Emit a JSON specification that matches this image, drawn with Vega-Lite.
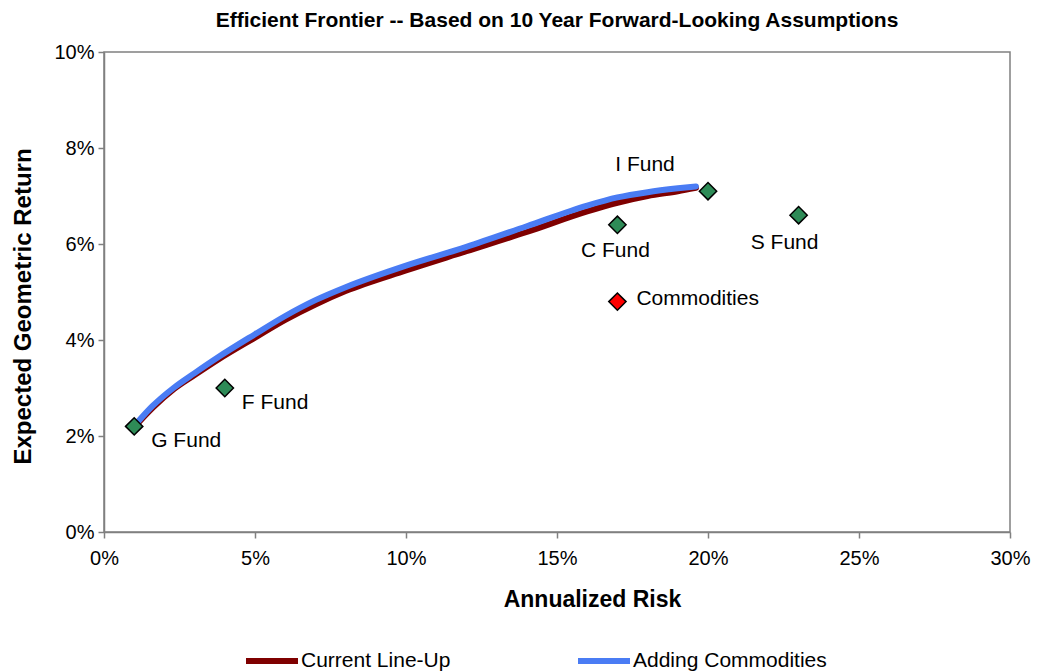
{
  "$schema": "https://vega.github.io/schema/vega-lite/v6.json",
  "width": 906,
  "height": 480,
  "autosize": "none",
  "padding": {"left": 104, "top": 52, "right": 27, "bottom": 139},
  "background": "white",
  "config": {
    "font": "Liberation Sans",
    "view": {"stroke": "#808080", "strokeWidth": 1.5},
    "axis": {"grid": false, "domainColor": "#808080", "domainWidth": 1.5, "tickColor": "#808080", "tickWidth": 1.5, "tickSize": 6, "labelFontSize": 20, "labelColor": "#000000", "titleFontSize": 23, "titleFontWeight": "bold", "titleColor": "#000000", "labelFont": "Liberation Sans", "titleFont": "Liberation Sans", "labelFlush": false}
  },
  "title": {"text": "Efficient Frontier -- Based on 10 Year Forward-Looking Assumptions", "fontSize": 21, "fontWeight": "bold", "font": "Liberation Sans", "color": "#000000", "offset": 11, "anchor": "middle"},
  "datasets": {
    "frontier": [
      {"series": "Current Line-Up", "risk": 0.011, "ret": 0.0225},
      {"series": "Current Line-Up", "risk": 0.016, "ret": 0.0258},
      {"series": "Current Line-Up", "risk": 0.023, "ret": 0.0297},
      {"series": "Current Line-Up", "risk": 0.030, "ret": 0.0327},
      {"series": "Current Line-Up", "risk": 0.038, "ret": 0.0360},
      {"series": "Current Line-Up", "risk": 0.050, "ret": 0.0405},
      {"series": "Current Line-Up", "risk": 0.060, "ret": 0.0442},
      {"series": "Current Line-Up", "risk": 0.070, "ret": 0.0474},
      {"series": "Current Line-Up", "risk": 0.080, "ret": 0.0502},
      {"series": "Current Line-Up", "risk": 0.100, "ret": 0.0545},
      {"series": "Current Line-Up", "risk": 0.120, "ret": 0.0585},
      {"series": "Current Line-Up", "risk": 0.140, "ret": 0.0625},
      {"series": "Current Line-Up", "risk": 0.160, "ret": 0.0668},
      {"series": "Current Line-Up", "risk": 0.170, "ret": 0.0686},
      {"series": "Current Line-Up", "risk": 0.180, "ret": 0.0700},
      {"series": "Current Line-Up", "risk": 0.190, "ret": 0.0710},
      {"series": "Current Line-Up", "risk": 0.196, "ret": 0.0717},
      {"series": "Adding Commodities", "risk": 0.011, "ret": 0.0228},
      {"series": "Adding Commodities", "risk": 0.016, "ret": 0.0262},
      {"series": "Adding Commodities", "risk": 0.023, "ret": 0.0300},
      {"series": "Adding Commodities", "risk": 0.030, "ret": 0.0331},
      {"series": "Adding Commodities", "risk": 0.038, "ret": 0.0365},
      {"series": "Adding Commodities", "risk": 0.050, "ret": 0.0412},
      {"series": "Adding Commodities", "risk": 0.060, "ret": 0.0450},
      {"series": "Adding Commodities", "risk": 0.070, "ret": 0.0483},
      {"series": "Adding Commodities", "risk": 0.080, "ret": 0.0510},
      {"series": "Adding Commodities", "risk": 0.100, "ret": 0.0555},
      {"series": "Adding Commodities", "risk": 0.120, "ret": 0.0594},
      {"series": "Adding Commodities", "risk": 0.140, "ret": 0.0637},
      {"series": "Adding Commodities", "risk": 0.160, "ret": 0.0680},
      {"series": "Adding Commodities", "risk": 0.170, "ret": 0.0697},
      {"series": "Adding Commodities", "risk": 0.180, "ret": 0.0708},
      {"series": "Adding Commodities", "risk": 0.190, "ret": 0.0716},
      {"series": "Adding Commodities", "risk": 0.196, "ret": 0.0720}
    ],
    "funds": [
      {"name": "G Fund", "risk": 0.01, "ret": 0.022},
      {"name": "F Fund", "risk": 0.04, "ret": 0.030},
      {"name": "C Fund", "risk": 0.17, "ret": 0.064},
      {"name": "Commodities", "risk": 0.17, "ret": 0.048},
      {"name": "I Fund", "risk": 0.20, "ret": 0.071},
      {"name": "S Fund", "risk": 0.23, "ret": 0.066}
    ]
  },
  "encoding": {
    "x": {"field": "risk", "type": "quantitative", "title": "Annualized Risk", "scale": {"domain": [0, 0.3], "nice": false}, "axis": {"values": [0, 0.05, 0.1, 0.15, 0.2, 0.25, 0.3], "format": ".0%", "labelPadding": 10, "titlePadding": 20, "titleX": 488, "titleAlign": "center"}},
    "y": {"field": "ret", "type": "quantitative", "title": "Expected Geometric Return", "scale": {"domain": [0, 0.1], "nice": false}, "axis": {"values": [0, 0.02, 0.04, 0.06, 0.08, 0.1], "format": ".0%", "labelPadding": 4, "titlePadding": 18, "titleFontSize": 24, "titleY": 254}}
  },
  "layer": [
    {
      "data": {"name": "frontier"},
      "transform": [{"filter": "datum.series === 'Current Line-Up'"}],
      "mark": {"type": "line", "strokeWidth": 6, "interpolate": "monotone", "strokeCap": "round"},
      "encoding": {
        "color": {"field": "series", "type": "nominal", "scale": {"domain": ["Current Line-Up", "Adding Commodities"], "range": ["#7F0000", "#4A7CF4"]},
          "legend": {"orient": "none", "legendX": 139, "legendY": 580, "direction": "horizontal", "title": null, "symbolType": "stroke", "symbolSize": 2704, "symbolStrokeWidth": 6, "labelFontSize": 21, "labelFont": "Liberation Sans", "labelColor": "#000000", "labelOffset": 0, "labelLimit": 400, "columnPadding": 115}}
      }
    },
    {
      "data": {"name": "frontier"},
      "transform": [{"filter": "datum.series === 'Adding Commodities'"}],
      "mark": {"type": "line", "strokeWidth": 6, "interpolate": "monotone", "strokeCap": "round"},
      "encoding": {
        "color": {"field": "series", "type": "nominal"}
      }
    },
    {
      "data": {"name": "funds"},
      "mark": {"type": "point", "shape": "diamond", "filled": true, "size": 300, "stroke": "#000000", "strokeWidth": 1.5, "opacity": 1},
      "encoding": {
        "fill": {"condition": {"test": "datum.name === 'Commodities'", "value": "#FF0000"}, "value": "#2E8B57"}
      }
    },
    {
      "data": {"name": "funds"},
      "transform": [{"filter": "datum.name === 'G Fund' || datum.name === 'F Fund'"}],
      "mark": {"type": "text", "align": "left", "baseline": "middle", "dx": 17, "dy": 15, "fontSize": 21, "font": "Liberation Sans", "color": "#000000"},
      "encoding": {"text": {"field": "name"}}
    },
    {
      "data": {"name": "funds"},
      "transform": [{"filter": "datum.name === 'C Fund'"}],
      "mark": {"type": "text", "align": "center", "baseline": "middle", "dx": -2, "dy": 26, "fontSize": 21, "font": "Liberation Sans", "color": "#000000"},
      "encoding": {"text": {"field": "name"}}
    },
    {
      "data": {"name": "funds"},
      "transform": [{"filter": "datum.name === 'Commodities'"}],
      "mark": {"type": "text", "align": "left", "baseline": "middle", "dx": 19, "dy": -3, "fontSize": 21, "font": "Liberation Sans", "color": "#000000"},
      "encoding": {"text": {"field": "name"}}
    },
    {
      "data": {"name": "funds"},
      "transform": [{"filter": "datum.name === 'I Fund'"}],
      "mark": {"type": "text", "align": "center", "baseline": "middle", "dx": -63, "dy": -26, "fontSize": 21, "font": "Liberation Sans", "color": "#000000"},
      "encoding": {"text": {"field": "name"}}
    },
    {
      "data": {"name": "funds"},
      "transform": [{"filter": "datum.name === 'S Fund'"}],
      "mark": {"type": "text", "align": "center", "baseline": "middle", "dx": -14, "dy": 28, "fontSize": 21, "font": "Liberation Sans", "color": "#000000"},
      "encoding": {"text": {"field": "name"}}
    }
  ]
}
